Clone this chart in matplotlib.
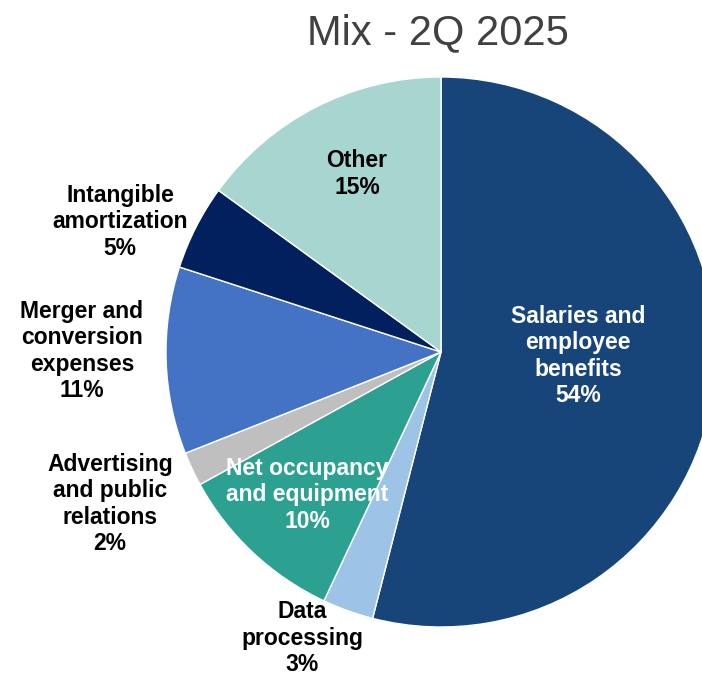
import matplotlib
matplotlib.use("Agg")
from matplotlib import pyplot as plt

# data
categories = ['Salaries and\nemployee\nbenefits', 'Data\nprocessing', 'Net occupancy\nand equipment',
              'Advertising\nand public\nrelations', 'Merger and\nconversion\nexpenses',
              'Intangible\namortization', 'Other']
shares = [54, 3, 10, 2, 11, 5, 15]
colors = ['#17457A', '#9DC3E6', '#2CA191', '#BFBFBF', '#4472C4', '#02205E', '#A7D5D0']
title = 'Mix - 2Q 2025'

# label placement in pixel coords of the original (center x, center y), text colour
label_pos = [(578, 356), (302, 638), (307, 495), (110, 504), (82, 351), (120, 222), (357, 174)]
label_col = ['white', 'black', 'white', 'black', 'black', 'black', 'black']

plt.rcParams['font.family'] = ['Liberation Sans']

W, H = 702, 675
fig = plt.figure(figsize=(W / 100, H / 100), dpi=100)
cx, cy, r = 441, 352, 275
ax = fig.add_axes([(cx - r) / W, (H - cy - r) / H, 2 * r / W, 2 * r / H])
ax.pie(shares, colors=colors, startangle=90, counterclock=False, radius=1,
       wedgeprops=dict(edgecolor='white', linewidth=1))
ax.set_xlim(-1, 1)
ax.set_ylim(-1, 1)
ax.set_aspect('equal')
ax.axis('off')

for name, val, (px, py), c in zip(categories, shares, label_pos, label_col):
    fig.text(px / W, 1 - py / H, '%s\n%d%%' % (name, val), ha='center', va='center',
             fontsize=16.5, fontweight='bold', color=c, linespacing=1.17)

fig.text(438 / W, 1 - 33 / H, title, ha='center', va='center', fontsize=30, color='#404040')

fig.savefig('out.png', dpi=100)
